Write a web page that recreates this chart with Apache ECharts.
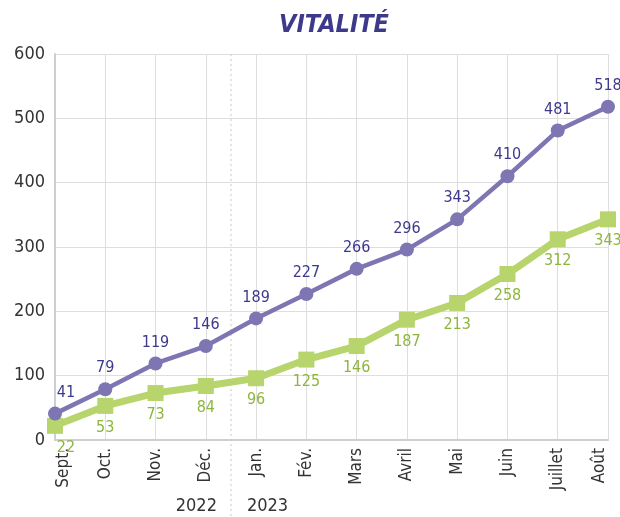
<!DOCTYPE html>
<html lang="fr">
<head>
    <meta charset="UTF-8">
    <title>index</title>
    <script src="https://cdn.jsdelivr.net/npm/echarts@6/dist/echarts.min.js"></script>
    <style>
        html, body { margin: 0; padding: 0; background: #fff; }
        #chart { width: 620px; height: 517px; }
    </style>
</head>
<body>
<div id="chart"></div>
<script>
    var mois = ['Sept.', 'Oct.', 'Nov.', 'Déc.', 'Jan.', 'Fév.', 'Mars', 'Avril', 'Mai', 'Juin', 'Juillet', 'Août'];
    var serieViolet = [41, 79, 119, 146, 189, 227, 266, 296, 343, 410, 481, 518];
    var serieVert = [22, 53, 73, 84, 96, 125, 146, 187, 213, 258, 312, 343];
    var annees = ['2022', '2023'];

    var police = '"DejaVu Sans Condensed", "Noto Sans", sans-serif';
    var myChart = echarts.init(document.getElementById('chart'));

    // le premier point a son étiquette décalée vers la droite
    function avecDecalage(valeurs) {
        return valeurs.map(function (v, i) {
            if (i === 0) return { value: v, label: { offset: [11, 0] } };
            return v;
        });
    }

    // étiquettes des mois : première poussée à droite, dernière à gauche
    var moisAxe = mois.map(function (m, i) {
        if (i === 0) return { value: m, textStyle: { verticalAlign: 'top' } };
        if (i === mois.length - 1) return { value: m, textStyle: { verticalAlign: 'bottom' } };
        return m;
    });

    var option = {
        animation: false,
        title: {
            text: 'VITALITÉ',
            left: 274,
            top: 8,
            textStyle: {
                color: '#3d3a8c',
                fontSize: 25,
                fontWeight: 'bold',
                fontStyle: 'italic',
                fontFamily: police
            }
        },
        grid: {
            left: 55,
            right: 12,
            top: 54,
            bottom: 77,
            outerBoundsMode: 'none'
        },
        xAxis: {
            type: 'category',
            boundaryGap: false,
            data: moisAxe,
            axisLine: { lineStyle: { color: '#cfcfcf', width: 2 } },
            axisTick: { show: false },
            axisLabel: {
                rotate: 90,
                color: '#333',
                fontSize: 17,
                margin: 8,
                fontFamily: police,
                overflow: 'none'
            },
            splitLine: { show: true, lineStyle: { color: '#dedede' } }
        },
        yAxis: {
            type: 'value',
            min: 0,
            max: 600,
            interval: 100,
            axisLine: { show: true, lineStyle: { color: '#cfcfcf', width: 2 } },
            axisTick: { show: false },
            axisLabel: {
                color: '#333',
                fontSize: 18,
                margin: 10,
                fontFamily: police
            },
            splitLine: { lineStyle: { color: '#dedede' } }
        },
        series: [
            {
                name: 'violet',
                type: 'line',
                data: avecDecalage(serieViolet),
                symbol: 'circle',
                symbolSize: 14,
                lineStyle: { color: '#7d76b3', width: 4.5 },
                itemStyle: { color: '#7d76b3' },
                label: {
                    show: true,
                    position: 'top',
                    distance: 6,
                    color: '#3d3a8c',
                    fontSize: 16,
                    fontFamily: police
                },
                z: 3
            },
            {
                name: 'vert',
                type: 'line',
                data: avecDecalage(serieVert),
                symbol: 'rect',
                symbolSize: 16,
                lineStyle: { color: '#b7d56c', width: 7 },
                itemStyle: { color: '#b7d56c' },
                label: {
                    show: true,
                    position: 'bottom',
                    distance: 6,
                    color: '#8db63c',
                    fontSize: 16,
                    fontFamily: police
                },
                z: 2
            }
        ]
    };
    myChart.setOption(option);

    // séparation des années entre Déc. et Jan.
    var xDec = myChart.convertToPixel({ xAxisIndex: 0 }, 3);
    var xJan = myChart.convertToPixel({ xAxisIndex: 0 }, 4);
    var xSep = (xDec + xJan) / 2;
    myChart.setOption({
        graphic: [
            {
                type: 'line',
                shape: { x1: xSep, y1: 54, x2: xSep, y2: 517 },
                style: { stroke: '#c8c8c8', lineWidth: 1, lineDash: [2, 3] },
                z: 1
            },
            {
                type: 'text',
                x: xSep - 14,
                y: 506,
                style: {
                    text: annees[0],
                    align: 'right',
                    verticalAlign: 'middle',
                    fill: '#333',
                    font: '18px ' + police
                }
            },
            {
                type: 'text',
                x: xSep + 16,
                y: 506,
                style: {
                    text: annees[1],
                    align: 'left',
                    verticalAlign: 'middle',
                    fill: '#333',
                    font: '18px ' + police
                }
            }
        ]
    });
</script>
</body>
</html>
